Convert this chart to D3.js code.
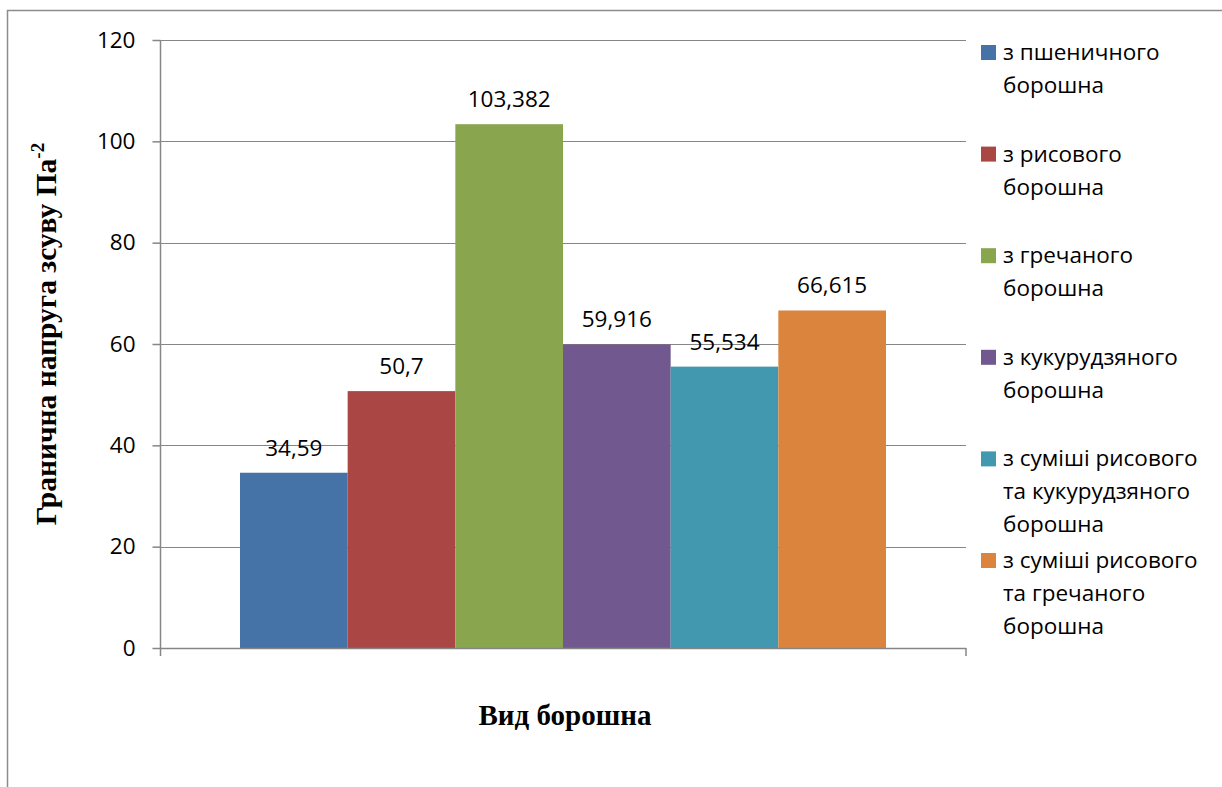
<!DOCTYPE html>
<html>
<head>
<meta charset="utf-8">
<script src="https://cdn.jsdelivr.net/npm/d3@7"></script>
<style>
  html, body { margin: 0; padding: 0; background: #fff; }
  svg { display: block; }
</style>
</head>
<body>
<svg id="chart" width="1222" height="787"></svg>
<script>
// Flour types (legend entries, each line of the wrapped label)
const categories = [
  ["з пшеничного", "борошна"],
  ["з рисового", "борошна"],
  ["з гречаного", "борошна"],
  ["з кукурудзяного", "борошна"],
  ["з суміші рисового", "та кукурудзяного", "борошна"],
  ["з суміші рисового", "та гречаного", "борошна"]
];
// Yield stress values
const values = [34.59, 50.7, 103.382, 59.916, 55.534, 66.615];
const valueLabels = ["34,59", "50,7", "103,382", "59,916", "55,534", "66,615"];
const colors = ["#4572A7", "#AA4643", "#89A54E", "#71588F", "#4198AF", "#DB843D"];
const yTicks = [0, 20, 40, 60, 80, 100, 120];

const svg = d3.select("#chart");
const plotLeft = 160, plotRight = 966, plotTop = 40, plotBottom = 648;
const labelFont = "'Open Sans', sans-serif";
const titleFont = "'Liberation Serif', 'Times New Roman', serif";
const axisColor = "#868686";

// Outer chart frame
svg.append("rect")
  .attr("x", 7.5).attr("y", 10.5)
  .attr("width", 1240).attr("height", 800)
  .attr("fill", "none").attr("stroke", "#8c8c8c").attr("stroke-width", 1.5);

const y = d3.scaleLinear().domain([0, 120]).range([plotBottom, plotTop]);
const x = d3.scaleBand()
  .domain(d3.range(values.length))
  .range([plotLeft, plotRight])
  .paddingInner(0)
  .paddingOuter(0.743);

// Horizontal gridlines
svg.append("g")
  .selectAll("line")
  .data(yTicks.filter(d => d > 0))
  .join("line")
  .attr("x1", plotLeft).attr("x2", plotRight)
  .attr("y1", d => Math.round(y(d)) + 0.5)
  .attr("y2", d => Math.round(y(d)) + 0.5)
  .attr("stroke", axisColor).attr("stroke-width", 1);

// Bars
svg.append("g")
  .selectAll("rect")
  .data(values)
  .join("rect")
  .attr("x", (d, i) => x(i))
  .attr("width", x.bandwidth())
  .attr("y", d => y(d))
  .attr("height", d => y(0) - y(d))
  .attr("fill", (d, i) => colors[i]);

// Value labels above bars
svg.append("g")
  .selectAll("text")
  .data(values)
  .join("text")
  .attr("x", (d, i) => x(i) + x.bandwidth() / 2)
  .attr("y", d => y(d) - 17)
  .attr("text-anchor", "middle")
  .attr("font-family", labelFont)
  .attr("font-size", 22.5)
  .attr("fill", "#000")
  .text((d, i) => valueLabels[i]);

// Y axis
const yAxis = d3.axisLeft(y).tickValues(yTicks).tickSize(8).tickPadding(17)
  .tickFormat(d3.format("d"));
const gy = svg.append("g").attr("transform", `translate(${plotLeft + 0.5},0)`).call(yAxis);
gy.select(".domain").remove();
gy.selectAll(".tick line").attr("stroke", axisColor).attr("stroke-width", 1.5);
gy.selectAll(".tick text")
  .attr("font-family", labelFont).attr("font-size", 22.5).attr("fill", "#000");
svg.append("line")
  .attr("x1", plotLeft + 0.5).attr("x2", plotLeft + 0.5)
  .attr("y1", plotTop).attr("y2", plotBottom + 8)
  .attr("stroke", axisColor).attr("stroke-width", 1.5);

// X axis line with end ticks
svg.append("line")
  .attr("x1", plotLeft).attr("x2", plotRight)
  .attr("y1", plotBottom + 0.5).attr("y2", plotBottom + 0.5)
  .attr("stroke", axisColor).attr("stroke-width", 1.5);
svg.append("line")
  .attr("x1", plotRight).attr("x2", plotRight)
  .attr("y1", plotBottom).attr("y2", plotBottom + 8)
  .attr("stroke", axisColor).attr("stroke-width", 1.5);

// Axis titles
const yTitle = svg.append("text")
  .attr("transform", `translate(56,334) rotate(-90)`)
  .attr("text-anchor", "middle")
  .attr("font-family", titleFont)
  .attr("font-weight", "bold")
  .attr("font-size", 29.5)
  .attr("fill", "#000");
yTitle.append("tspan").text("Гранична напруга зсуву Па");
yTitle.append("tspan").attr("dy", -12).attr("font-size", 19).text("-2");

svg.append("text")
  .attr("x", 565).attr("y", 725)
  .attr("text-anchor", "middle")
  .attr("font-family", titleFont)
  .attr("font-weight", "bold")
  .attr("font-size", 29)
  .attr("fill", "#000")
  .text("Вид борошна");

// Legend
const legendTop = 60, legendStep = 101.6, lineH = 33;
const lg = svg.append("g")
  .selectAll("g")
  .data(categories)
  .join("g")
  .attr("transform", (d, i) => `translate(981,${legendTop + i * legendStep})`);
lg.append("rect")
  .attr("x", 0).attr("y", -15)
  .attr("width", 15).attr("height", 15)
  .attr("fill", (d, i) => colors[i]);
lg.append("text")
  .attr("font-family", labelFont)
  .attr("font-size", 22.5)
  .attr("fill", "#000")
  .selectAll("tspan")
  .data(d => d)
  .join("tspan")
  .attr("x", 22)
  .attr("y", (d, j) => j * lineH)
  .text(d => d);
</script>
</body>
</html>
